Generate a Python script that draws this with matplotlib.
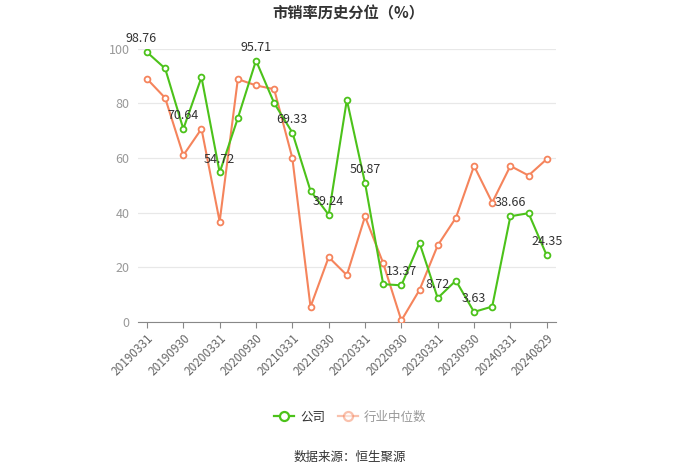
import matplotlib
matplotlib.use("Agg")
import matplotlib.pyplot as plt
from matplotlib.lines import Line2D

plt.rcParams["font.family"] = ["Noto Sans CJK SC", "DejaVu Sans"]

# 数据
dates = ["20190331", "20190630", "20190930", "20191231",
         "20200331", "20200630", "20200930", "20201231",
         "20210331", "20210630", "20210930", "20211231",
         "20220331", "20220630", "20220930", "20221231",
         "20230331", "20230630", "20230930", "20231231",
         "20240331", "20240630", "20240829"]
company = [98.76, 92.8, 70.64, 89.6, 54.72, 74.6, 95.71, 80.1, 69.33, 48.0, 39.24, 81.3,
           50.87, 13.8, 13.37, 28.9, 8.72, 15.1, 3.63, 5.6, 38.66, 39.8, 24.35]
industry = [89.0, 82.0, 61.0, 70.7, 36.7, 88.9, 86.6, 85.2, 60.0, 5.5, 23.7, 17.1,
            38.6, 21.5, 0.5, 11.7, 28.0, 38.1, 57.1, 43.7, 57.1, 53.6, 59.6]
label_idx = list(range(0, len(dates), 2))

GREEN = "#4cc21a"
ORANGE = "#f5845c"

fig = plt.figure(figsize=(7, 4.74), dpi=100)
ax = fig.add_axes([0.197, 0.321, 0.597, 0.576])

x = list(range(len(dates)))
ax.plot(x, industry, color=ORANGE, lw=1.5, marker="o", ms=4.2,
        mfc="white", mec=ORANGE, mew=1.3, zorder=3)
ax.plot(x, company, color=GREEN, lw=1.5, marker="o", ms=4.2,
        mfc="white", mec=GREEN, mew=1.3, zorder=4)

for i in label_idx:
    dx = -4 if i == 0 else 0
    ax.annotate(f"{company[i]:.2f}", (i, company[i]), xytext=(dx, 5),
                textcoords="offset points", ha="center", va="bottom",
                fontsize=9, color="#333333", zorder=5)

ax.set_xlim(-0.5, len(dates) - 0.5)
ax.set_ylim(0, 100)
ax.set_yticks([0, 20, 40, 60, 80, 100])
ax.set_xticks(label_idx)
ax.set_xticklabels([dates[i] for i in label_idx], rotation=45, ha="right",
                   rotation_mode="anchor", fontsize=8.5, color="#666666")
ax.tick_params(axis="y", length=0, labelsize=9, labelcolor="#999999", pad=6)
ax.tick_params(axis="x", length=4, color="#888888", pad=3)
ax.grid(axis="y", color="#e8e8e8", lw=0.9)
ax.set_axisbelow(True)
for s in ["top", "right", "left"]:
    ax.spines[s].set_visible(False)
ax.spines["bottom"].set_color("#888888")

fig.text(0.497, 0.972, "市销率历史分位（%）", ha="center", va="center",
         fontsize=11, fontweight="bold", color="#333333")

handles = [
    Line2D([], [], color=GREEN, lw=1.6, marker="o", ms=6.5, mfc="white", mec=GREEN, mew=1.6),
    Line2D([], [], color=ORANGE, lw=1.6, marker="o", ms=6.5, mfc="white", mec=ORANGE, mew=1.6, alpha=0.5),
]
leg = fig.legend(handles, ["公司", "行业中位数"], loc="center", bbox_to_anchor=(0.5, 0.12),
                 ncol=2, frameon=False, fontsize=9, handlelength=1.6, columnspacing=1.0,
                 handletextpad=0.5)
leg.get_texts()[0].set_color("#333333")
leg.get_texts()[1].set_color("#999999")

fig.text(0.5, 0.034, "数据来源：恒生聚源", ha="center", va="center",
         fontsize=9, color="#333333")

fig.savefig("out.png", dpi=100)
